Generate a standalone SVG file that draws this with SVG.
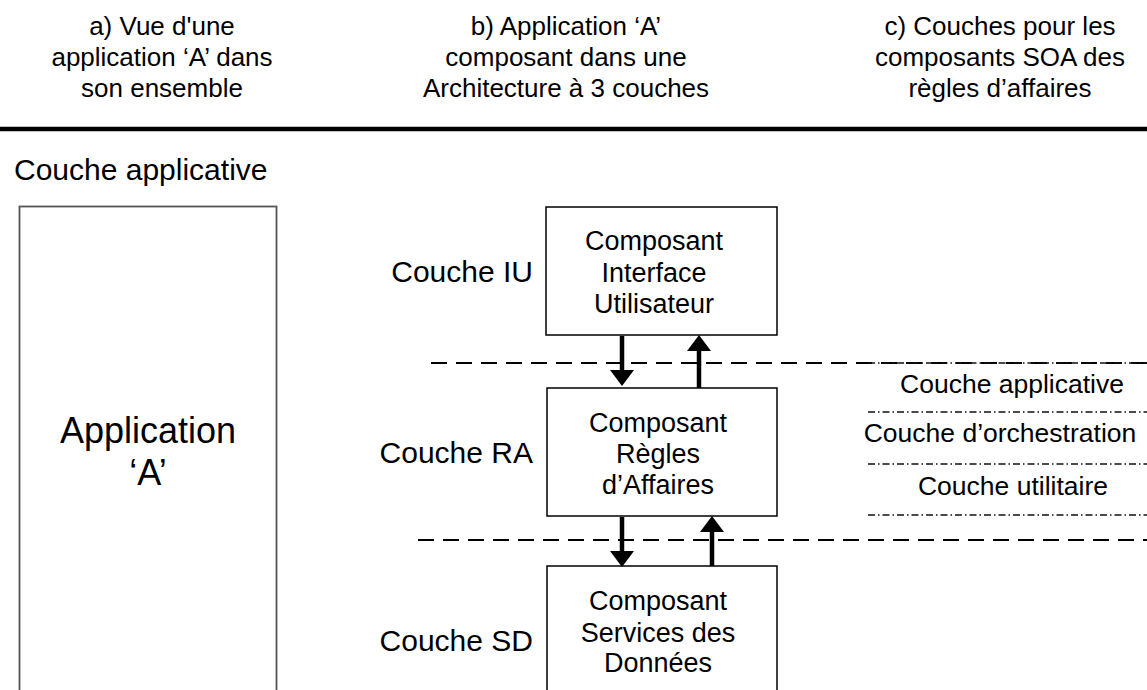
<svg xmlns="http://www.w3.org/2000/svg" width="1147" height="690" viewBox="0 0 1147 690">
  <defs>
    <style>
      text { font-family: "Liberation Sans", Arial, sans-serif; fill: #000; }
      .hdr { font-size: 26px; text-anchor: middle; }
      .lbl { font-size: 30px; }
      .box { fill: #fff; stroke: #000; stroke-width: 1.5; }
      .btxt { font-size: 27px; text-anchor: middle; }
      .rtxt { font-size: 26.5px; text-anchor: middle; }
      .dash { stroke: #000; stroke-width: 2.2; stroke-dasharray: 16 9; fill: none; }
      .dashdot { stroke: #111; stroke-width: 1.3; stroke-dasharray: 7 3 1.5 3; fill: none; }
      .shaft { stroke: #000; stroke-width: 4.5; fill: none; }
      .head { fill: #000; }
    </style>
  </defs>

  <rect width="1147" height="690" fill="#fff"/>

  <!-- column headings -->
  <g id="heading-a">
    <text class="hdr" x="162" y="35">a) Vue d'une</text>
    <text class="hdr" x="162" y="66">application ‘A’ dans</text>
    <text class="hdr" x="162" y="97">son ensemble</text>
  </g>
  <g id="heading-b">
    <text class="hdr" x="566" y="35">b) Application ‘A’</text>
    <text class="hdr" x="566" y="66">composant dans une</text>
    <text class="hdr" x="566" y="97">Architecture à 3 couches</text>
  </g>
  <g id="heading-c">
    <text class="hdr" x="1000" y="35">c) Couches pour les</text>
    <text class="hdr" x="1000" y="66">composants SOA des</text>
    <text class="hdr" x="1000" y="97">règles d’affaires</text>
  </g>

  <line x1="0" y1="129" x2="1147" y2="129" stroke="#000" stroke-width="4.5"/>

  <text id="title-app-layer" class="lbl" x="14" y="180">Couche applicative</text>

  <!-- whole application view -->
  <g id="app-a">
    <rect x="19.5" y="206.5" width="257" height="500" fill="#fff" stroke="#555" stroke-width="1.8"/>
    <text x="148" y="443" font-size="36" text-anchor="middle">Application</text>
    <text x="148" y="485" font-size="36" text-anchor="middle">‘A’</text>
  </g>

  <!-- tier labels -->
  <g id="tier-labels">
    <text class="lbl" x="533" y="282" text-anchor="end">Couche IU</text>
    <text class="lbl" x="533" y="463" text-anchor="end">Couche RA</text>
    <text class="lbl" x="533" y="651" text-anchor="end">Couche SD</text>
  </g>

  <!-- tier separators and SOA sub-layers -->
  <g id="separators">
    <line class="dash" x1="431" y1="363" x2="1147" y2="363"/>
    <line class="dash" x1="418" y1="540" x2="1147" y2="540"/>
    <line class="dashdot" x1="868" y1="363" x2="1147" y2="363"/>
    <line class="dashdot" x1="868" y1="412" x2="1147" y2="412"/>
    <line class="dashdot" x1="868" y1="464" x2="1147" y2="464"/>
    <line class="dashdot" x1="868" y1="515" x2="1147" y2="515"/>
  </g>

  <g id="soa-layers">
    <text class="rtxt" x="1012" y="393">Couche applicative</text>
    <text class="rtxt" x="1000" y="442">Couche d’orchestration</text>
    <text class="rtxt" x="1013" y="495">Couche utilitaire</text>
  </g>

  <!-- components -->
  <g id="comp-iu">
    <rect class="box" x="546" y="207" width="231" height="128"/>
    <text class="btxt" x="654" y="250">Composant</text>
    <text class="btxt" x="654" y="282">Interface</text>
    <text class="btxt" x="654" y="313">Utilisateur</text>
  </g>
  <g id="comp-ra">
    <rect class="box" x="547" y="388" width="230" height="128"/>
    <text class="btxt" x="658" y="432">Composant</text>
    <text class="btxt" x="658" y="463">Règles</text>
    <text class="btxt" x="658" y="494">d’Affaires</text>
  </g>
  <g id="comp-sd">
    <rect class="box" x="547" y="566" width="230" height="140"/>
    <text class="btxt" x="658" y="610">Composant</text>
    <text class="btxt" x="658" y="642">Services des</text>
    <text class="btxt" x="658" y="672">Données</text>
  </g>

  <!-- connectors: shafts plus solid arrowheads -->
  <g id="connectors">
    <line class="shaft" x1="622" y1="336" x2="622" y2="372"/>
    <polygon class="head" points="610,370 634,370 622,386"/>
    <line class="shaft" x1="699" y1="388" x2="699" y2="349"/>
    <polygon class="head" points="687,351 711,351 699,335"/>
    <line class="shaft" x1="622" y1="517" x2="622" y2="553"/>
    <polygon class="head" points="610,551 634,551 622,567"/>
    <line class="shaft" x1="712" y1="566" x2="712" y2="530"/>
    <polygon class="head" points="700,532 724,532 712,516"/>
  </g>
</svg>
